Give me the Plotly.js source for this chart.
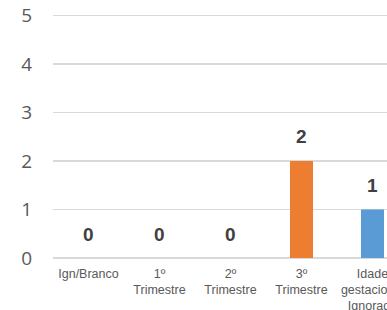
<!DOCTYPE html>
<html>
<head>
<meta charset="utf-8">
<script src="https://cdn.plot.ly/plotly-3.0.1.min.js"></script>
<style>
html,body{margin:0;padding:0;overflow:hidden;background:#fff;}
#chart{width:387px;height:310px;}
</style>
</head>
<body>
<div id="chart"></div>
<script>
var categories = ['Ign/Branco', '1º<br>Trimestre', '2º<br>Trimestre', '3º<br>Trimestre', 'Idade<br>gestacional<br>Ignorada'];
var values = [0, 0, 0, 2, 1];
var barColors = ['#5B9BD5', '#ED7D31', '#A5A5A5', '#ED7D31', '#5B9BD5'];
var yTicks = [0, 1, 2, 3, 4, 5];

var trace = {
  type: 'bar',
  x: categories,
  y: values,
  marker: {color: barColors},
  hoverinfo: 'none'
};

var annotations = categories.map(function (c, i) {
  return {
    x: c, y: values[i], xref: 'x', yref: 'y',
    text: String(values[i]), showarrow: false,
    yanchor: 'middle', yshift: 24,
    font: {family: 'Liberation Sans, Arial, sans-serif', size: 19, color: '#404040', weight: 'bold'}
  };
});

var layout = {
  width: 387, height: 310,
  margin: {l: 53, r: 0, t: 13, b: 52},
  paper_bgcolor: '#ffffff', plot_bgcolor: '#ffffff',
  showlegend: false,
  bargap: 0.676,
  xaxis: {
    type: 'category',
    range: [-0.5, (387 - 53) / 71 - 0.5],
    showgrid: false, zeroline: false, showline: false, ticks: '',
    ticklabelstandoff: 6,
    tickfont: {family: 'Liberation Sans, Arial, sans-serif', size: 12.5, color: '#595959'},
    automargin: false, fixedrange: true
  },
  yaxis: {
    range: [0, 5.05],
    tickvals: yTicks,
    ticktext: yTicks.map(String),
    showgrid: true, gridcolor: '#D9D9D9', gridwidth: 1.3,
    zeroline: true, zerolinecolor: '#D9D9D9', zerolinewidth: 1.3,
    showline: false, ticks: '',
    ticklabelstandoff: 20,
    tickfont: {family: 'Open Sans, sans-serif', size: 19, color: '#595959'},
    automargin: false, fixedrange: true
  },
  annotations: annotations
};

Plotly.newPlot('chart', [trace], layout, {displayModeBar: false, staticPlot: true});
</script>
</body>
</html>
